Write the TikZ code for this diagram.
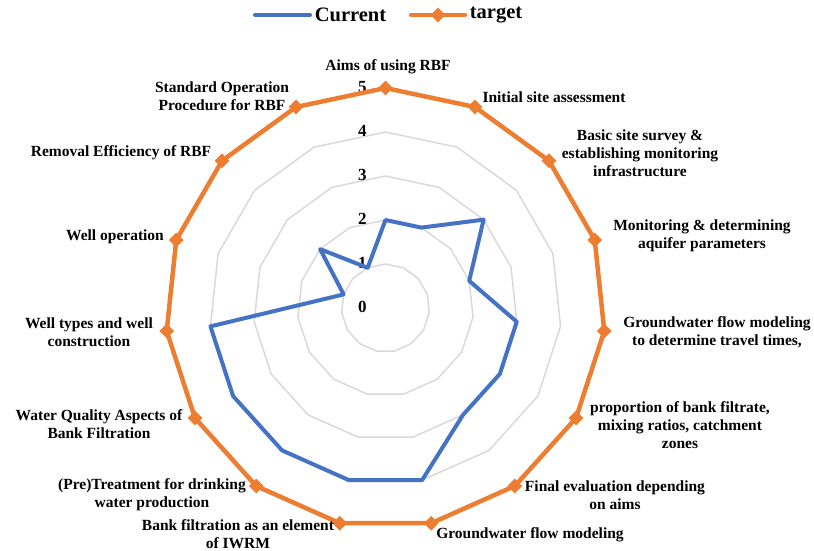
\documentclass[tikz,border=0pt]{standalone}
\usepackage{fontspec}
\setmainfont{Liberation Serif}
\usetikzlibrary{shapes.geometric}
\definecolor{curblue}{HTML}{4472C4}
\definecolor{tgtorange}{HTML}{ED7D31}
\definecolor{gridgray}{HTML}{D9D9D9}
\tikzset{
    ring/.style={draw=gridgray, line width=1.5pt},
    curline/.style={draw=curblue, line width=4pt, line join=round},
    tgtline/.style={draw=tgtorange, line width=4.5pt, line join=round},
    tgtmark/.style={diamond, fill=tgtorange, inner sep=0pt, minimum size=15pt},
    axlabel/.style={font=\fontsize{15.5}{18}\selectfont\bfseries, align=center, inner sep=0pt},
    vallabel/.style={font=\fontsize{17}{17}\selectfont\bfseries, inner sep=0pt},
    legtext/.style={font=\fontsize{20.5}{22}\selectfont\bfseries, inner sep=0pt}
}
\begin{document}
\begin{tikzpicture}[x=1pt, y=1pt]
        \useasboundingbox (-385.5,-243) rectangle (428.5,308);

        % grid rings
        \foreach \r in {1,...,5}
            \draw[ring] (90:\r*44) \foreach \k in {1,...,14}{ -- ({90-\k*24}:\r*44) } -- cycle;
        \foreach \v in {0,...,5}
            \node[vallabel] (v\v) at (-23,\v*44+1) {\v};

        % current
        \foreach \v [count=\k from 0] in {2,2,3,2,3,3,3,4,4,4,4,4,1,2,1}
            \coordinate (c\k) at ({90-\k*24}:\v*44);
        \draw[curline] (c0) \foreach \k in {1,...,14}{ -- (c\k) } -- cycle;

        % target
        \foreach \k in {0,...,14}
            \coordinate (t\k) at ({90-\k*24}:220);
        \draw[tgtline] (t0) \foreach \k in {1,...,14}{ -- (t\k) } -- cycle;
        \foreach \k in {0,...,14}
            \node[tgtmark] (m\k) at (t\k) {};

        % axis labels
        \node[axlabel] (aims) at (2.5,241) {Aims of using RBF};
        \node[axlabel] (init) at (168.5,211) {Initial site assessment};
        \node[axlabel] (basic) at (254.5,155) {Basic site survey \&\\establishing monitoring\\infrastructure};
        \node[axlabel] (monit) at (316.5,72) {Monitoring \& determining\\aquifer parameters};
        \node[axlabel] (gwtravel) at (331.5,-24) {Groundwater flow modeling\\to determine travel times,};
        \node[axlabel] (propor) at (294.5,-117) {proportion of bank filtrate,\\mixing ratios, catchment\\zones};
        \node[axlabel] (final) at (229.5,-187) {Final evaluation depending\\on aims};
        \node[axlabel] (gwflow) at (144.5,-227) {Groundwater flow modeling};
        \node[axlabel] (iwrm) at (-147.5,-226) {Bank filtration as an element\\of IWRM};
        \node[axlabel] (pretreat) at (-233.5,-187) {(Pre)Treatment for drinking\\water production};
        \node[axlabel] (wq) at (-286.5,-116) {Water Quality Aspects of\\Bank Filtration};
        \node[axlabel] (welltypes) at (-296.5,-24) {Well types and well\\construction};
        \node[axlabel] (wellop) at (-270.5,71) {Well operation};
        \node[axlabel] (removal) at (-264.5,155) {Removal Efficiency of RBF};
        \node[axlabel] (sop) at (-163.5,212) {Standard Operation\\Procedure for RBF};

        % legend
        \coordinate (lc1) at (-130.5,293);
        \coordinate (lc2) at (-75.5,293);
        \draw[curline, line cap=round] (lc1) -- (lc2);
        \node[legtext] (lcur) at (-35,293) {Current};
        \coordinate (lt1) at (25.5,293);
        \coordinate (lt2) at (79.5,293);
        \draw[tgtline, line cap=round] (lt1) -- (lt2);
        \node[tgtmark] (lmark) at (52.5,293) {};
        \node[legtext] (ltgt) at (110.5,293) {target};
\end{tikzpicture}
\end{document}
